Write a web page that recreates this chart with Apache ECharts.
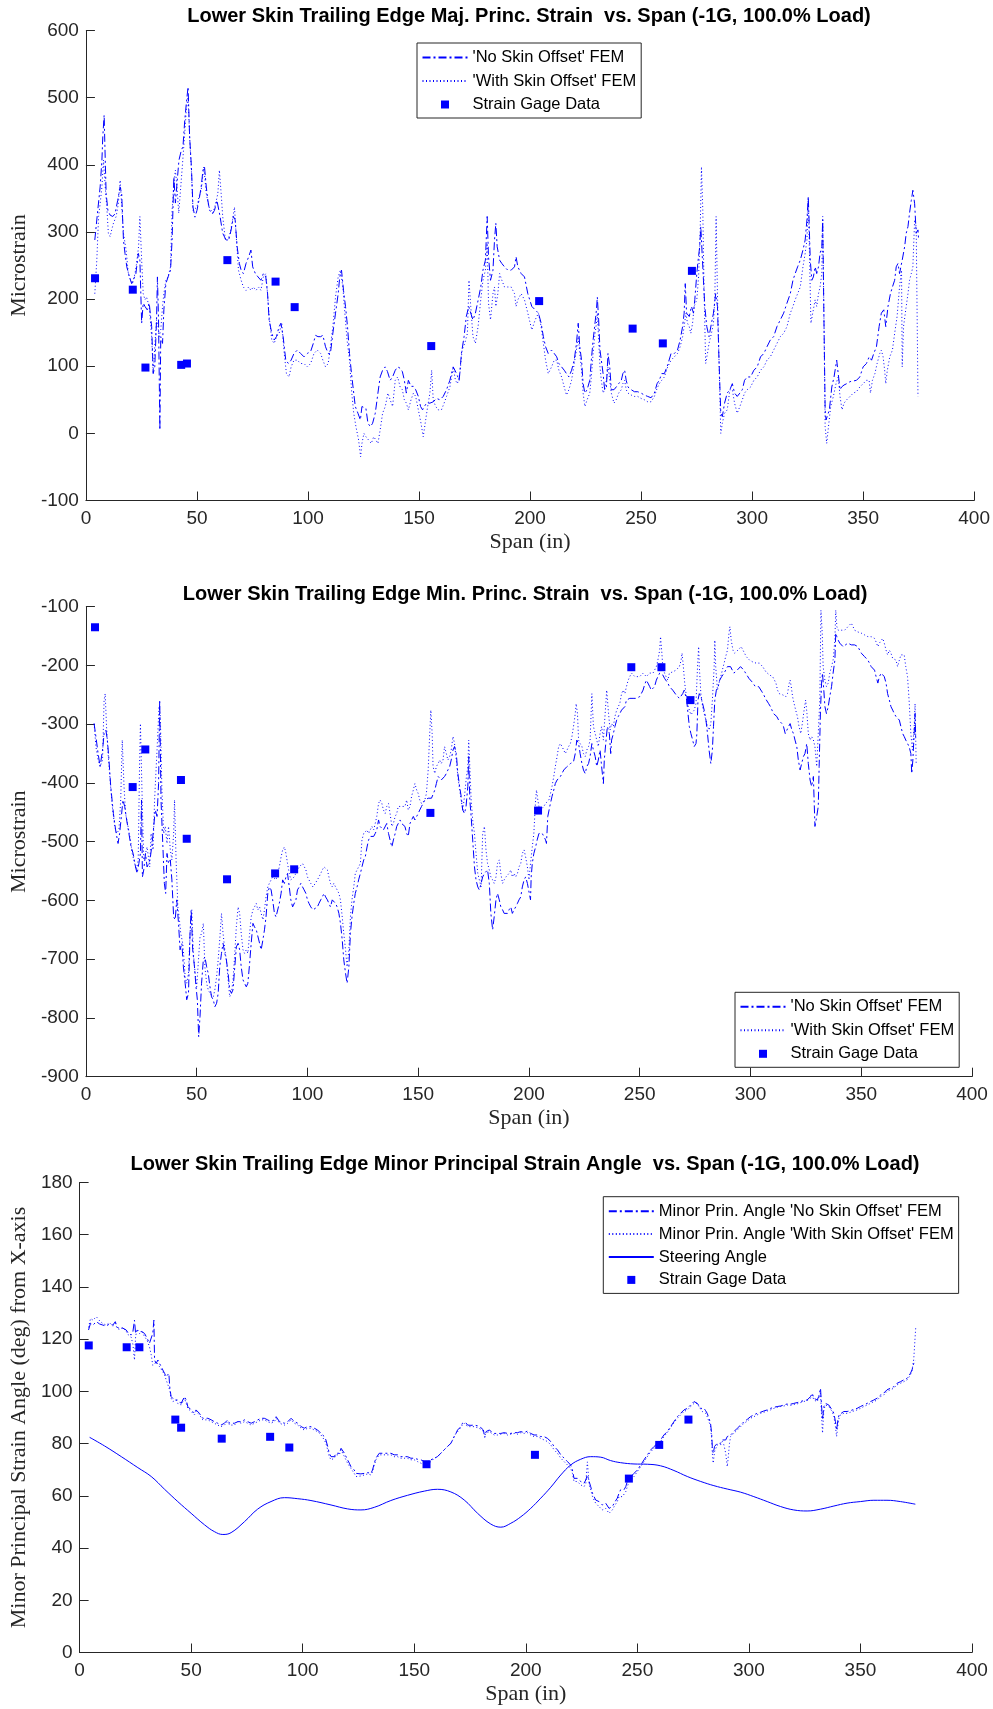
<!DOCTYPE html>
<html>
<head>
    <meta charset="UTF-8">
    <title>Lower Skin Trailing Edge Strain vs. Span</title>
    <script src="https://cdn.jsdelivr.net/npm/echarts@6/dist/echarts.min.js"></script>
    <style>
        body { margin: 0; background: #fff; }
        #chart { width: 993px; height: 1709px; }
    </style>
</head>
<body>
    <div id="chart"></div>

    <script>
        // strain gage locations (span, in) - same gages on all three plots
        var gageSpan = [4.1, 21.1, 26.8, 42.9, 45.5, 63.7, 85.4, 94, 155.5, 204.1, 246.2, 259.8, 272.9];

        // --- plot 1: major principal strain ---
        var majGage = [231, 214, 98, 102, 104, 258, 226, 188, 130, 197, 156, 134, 242];

        var majNoOffset = [[4.0,288],[5.2,328],[6.4,367],[7.2,407],[7.6,442],[8.2,474],[8.7,407],[9.1,357],[9.9,332],[10.9,325],[12.1,323],[13.1,327],[14.3,347],[15.4,367],[16.1,357],[16.9,288],[17.6,268],[18.4,248],[19.6,233],[20.6,223],[21.3,228],[22.5,238],[23.6,268],[24.3,258],[25.1,164],[25.8,194],[26.6,189],[27.6,184],[28.5,194],[29.6,159],[30.3,89],[31.0,99],[31.8,169],[32.2,233],[32.7,169],[33.3,5],[33.7,144],[34.5,134],[35.1,184],[36.0,223],[37.0,233],[38.1,243],[38.8,288],[39.6,382],[40.3,343],[41.0,372],[41.9,407],[43.0,422],[43.7,427],[44.5,466],[45.2,491],[46.0,516],[46.7,442],[47.5,397],[48.2,337],[49.1,322],[50.0,332],[50.9,347],[51.9,367],[52.7,392],[53.4,397],[54.2,367],[54.9,347],[55.7,332],[56.9,327],[57.9,332],[59.0,347],[59.9,347],[60.4,323],[61.6,298],[63.1,288],[64.3,288],[65.4,303],[66.4,323],[67.2,318],[68.1,278],[69.1,253],[69.9,243],[70.9,238],[72.1,253],[73.3,263],[74.3,273],[75.1,248],[76.3,238],[77.5,233],[78.8,228],[79.9,238],[81.0,233],[81.8,208],[82.5,169],[83.7,149],[84.8,139],[85.8,144],[87.0,159],[87.8,164],[88.8,144],[90.0,109],[91.2,104],[92.4,109],[93.7,119],[95.2,124],[96.7,119],[98.2,114],[99.7,119],[101.2,122],[102.4,134],[103.4,146],[104.5,144],[105.7,144],[106.7,146],[107.9,129],[109.1,119],[110.1,119],[111.2,149],[112.4,179],[113.6,208],[114.3,233],[115.1,243],[116.0,213],[116.9,189],[117.8,159],[118.7,119],[119.6,89],[120.6,60],[121.3,40],[122.5,30],[123.6,20],[124.3,40],[125.2,42],[126.1,37],[127.0,15],[128.1,10],[129.1,15],[130.3,30],[131.5,60],[132.5,84],[133.6,94],[134.8,99],[135.8,92],[137.0,79],[138.1,84],[139.3,94],[140.4,99],[141.5,97],[142.5,92],[143.4,79],[144.3,60],[145.2,79],[146.4,70],[147.5,70],[148.5,65],[149.7,55],[150.7,40],[151.6,35],[152.4,40],[153.4,45],[154.9,45],[156.4,47],[157.9,52],[159.4,50],[160.9,55],[162.4,65],[163.9,79],[165.4,99],[166.9,89],[168.1,79],[169.1,119],[170.3,144],[171.3,174],[172.4,189],[173.3,179],[174.3,169],[175.4,179],[176.6,198],[177.8,218],[178.8,243],[179.9,258],[180.7,323],[181.3,263],[182.2,228],[183.3,243],[184.0,288],[184.6,313],[185.2,278],[186.3,258],[187.3,253],[188.5,248],[190.0,243],[191.5,243],[193.0,248],[193.7,263],[194.5,248],[196.0,238],[197.5,233],[199.0,208],
            [200.8,189],[202.3,184],[203.8,179],[205.0,164],[206.0,144],[207.0,129],[208.2,119],[209.7,124],[210.9,119],[212.0,114],[213.0,104],[214.2,99],[215.4,94],[216.4,89],[217.5,84],[218.7,94],[219.9,109],[220.9,134],[221.7,164],[222.4,129],[223.2,109],[223.9,74],[224.7,60],[225.7,65],[226.9,79],[227.6,109],[228.4,139],[229.1,159],[229.9,184],[230.3,203],[230.9,169],[231.5,124],[232.1,109],[232.9,89],[233.6,65],[234.4,69],[235.1,119],[235.9,99],[236.6,65],[237.8,65],[238.8,69],[239.9,74],[241.1,79],[241.8,89],[242.6,94],[243.3,79],[244.1,69],[245.6,65],[247.0,62],[248.5,62],[250.0,60],[251.5,57],[253.0,55],[254.5,53],[256.0,60],[257.2,74],[258.2,79],[259.3,89],[260.5,89],[262.0,102],[263.5,119],[265.0,119],[266.4,124],[267.6,139],[268.7,159],[269.4,179],[269.9,223],[270.5,179],[271.7,174],[272.7,189],[273.6,179],[274.2,199],[275.1,238],[275.7,258],[276.4,278],[276.9,308],[277.5,268],[278.1,228],[278.7,189],[279.6,159],[280.6,144],[281.7,164],[282.6,179],[283.6,208],[284.4,189],[285.1,109],[285.9,30],[286.6,25],[287.6,45],[288.8,60],[290.0,65],[291.1,74],[292.1,60],[293.3,55],[294.5,60],[295.6,65],[296.6,79],[297.8,84],[299.3,84],[300.8,94],[302.3,99],[303.8,114],[305.3,119],[306.7,129],[308.2,139],[309.7,144],[311.2,159],[312.7,169],[314.2,179],[315.7,194],[317.2,208],[318.4,228],[319.4,238],[320.5,248],[321.7,258],[322.9,273],[323.9,288],[324.7,318],[325.3,352],[325.6,323],[326.2,258],[326.9,228],[327.6,233],[328.4,248],[329.1,238],[329.9,248],[330.6,268],[331.4,278],[331.8,318],[332.4,159],[332.9,35],[333.3,20],[333.9,20],[334.8,35],[335.9,69],[336.9,84],[338.1,109],[338.8,109],[339.6,65],[340.3,69],[341.4,72],[342.6,74],[344.1,77],[345.6,78],[347.0,79],[348.5,84],[350.0,99],[351.5,104],[352.7,114],[353.8,109],[354.8,119],[356.0,129],[357.2,159],[358.2,179],[359.3,184],[360.2,159],[361.2,189],[362.3,208],[363.2,218],[364.2,228],[364.9,248],[365.7,253],[366.4,238],[367.6,258],[368.7,278],[369.4,298],[370.2,308],[370.9,328],[371.7,347],[372.4,362],[373.2,342],[373.9,298],[374.7,303],[375.0,288]];

        var majWithOffset = [[4.0,208],[4.9,258],[5.7,323],[6.4,342],[7.2,367],[7.9,407],[8.7,367],[9.4,337],[10.1,298],[10.9,293],[11.6,303],[12.4,313],[13.6,323],[14.6,342],[15.4,377],[16.1,377],[16.9,298],[18.1,273],[19.1,238],[20.1,228],[21.0,223],[22.1,238],[22.8,253],[23.7,278],[24.3,323],[25.1,258],[25.8,208],[26.6,199],[27.3,203],[28.5,189],[29.6,144],[30.3,89],[31.0,129],[31.8,169],[32.5,159],[33.0,144],[33.7,154],[34.5,189],[35.1,208],[36.0,228],[37.0,233],[38.1,248],[38.8,332],[39.6,372],[40.3,392],[41.0,367],[41.8,328],[42.7,367],[43.4,397],[44.5,447],[45.2,481],[46.0,501],[46.7,442],[47.5,392],[48.2,332],[49.1,332],[50.0,337],[50.9,352],[51.9,362],[53.1,397],[54.2,357],[55.4,337],[56.4,332],[57.2,328],[58.4,342],[59.4,357],[60.1,392],[60.9,357],[61.6,323],[62.8,288],[63.9,288],[64.9,298],[65.8,313],[66.9,337],[67.6,298],[68.7,243],[69.9,228],[70.9,218],[72.1,213],[73.3,218],[74.3,213],[75.4,218],[76.6,213],[77.8,218],[78.8,213],[79.9,233],[81.0,238],[81.8,208],[82.5,174],[83.7,139],[84.8,134],[85.8,144],[87.0,149],[88.2,164],[89.3,119],[90.3,89],[91.5,84],[92.4,99],[93.7,109],[95.2,109],[96.7,104],[98.2,104],[99.7,99],[101.2,104],[102.7,119],[104.2,124],[105.7,119],[106.7,109],[107.9,99],[109.1,104],[110.1,129],[111.2,159],[112.4,203],[113.6,233],[114.6,243],[115.7,218],[116.6,179],[117.6,139],[118.7,109],[119.6,65],[120.6,30],[121.6,10],[122.8,-10],[123.7,-35],[124.3,-15],[125.2,0],[126.1,-5],[127.3,-10],[128.5,-15],[129.6,-5],[130.6,-10],[131.5,-15],[132.5,5],[133.6,30],[134.8,40],[136.0,60],[137.0,50],[138.1,40],[139.3,79],[140.4,84],[141.5,69],[142.5,65],[143.4,50],[144.3,45],[145.2,35],[146.4,50],[147.5,60],[148.5,55],[149.7,35],[150.9,15],[151.9,-5],[153.0,20],[153.9,40],[154.9,60],[155.7,94],[156.4,50],[157.5,40],[158.7,35],[160.1,35],[161.3,45],[162.4,55],[163.9,69],[165.4,99],[166.4,79],[167.3,74],[168.4,89],[169.4,124],[170.6,134],[171.8,149],[172.5,228],[173.3,189],[174.3,144],[175.4,134],[176.6,159],[177.8,199],[178.8,228],[179.9,243],[180.7,283],[181.3,194],[182.2,169],[183.3,208],[184.0,218],[184.6,189],[185.5,208],[186.3,238],[187.3,228],[188.5,218],[190.0,218],[191.5,218],[193.0,208],[193.7,189],[194.5,199],[196.0,208],[197.5,199],[199.0,179],
            [200.8,154],[202.3,169],[203.8,179],[205.0,159],[206.0,134],[207.0,109],[208.2,89],[209.7,99],[210.9,109],[212.0,109],[213.0,94],[214.2,84],[215.4,69],[216.4,57],[217.5,65],[218.7,79],[219.9,104],[220.9,124],[221.7,144],[222.4,119],[223.2,94],[223.9,60],[224.7,40],[225.7,50],[226.9,60],[227.6,84],[228.4,119],[229.1,144],[229.9,164],[230.3,179],[230.9,139],[231.5,99],[232.1,79],[232.9,60],[233.6,65],[234.4,79],[235.1,99],[235.9,79],[236.6,60],[237.8,45],[238.8,50],[239.9,60],[241.1,65],[241.8,74],[242.6,79],[243.3,65],[244.1,60],[245.6,57],[247.0,55],[248.5,55],[250.0,52],[251.5,50],[253.0,47],[254.5,47],[256.0,55],[257.2,67],[258.2,74],[259.3,79],[260.5,84],[262.0,99],[263.5,109],[265.0,114],[266.4,119],[267.6,129],[268.7,144],[269.4,159],[270.2,179],[270.9,164],[271.7,159],[272.4,149],[273.2,164],[273.9,189],[275.1,199],[275.9,233],[276.6,298],[277.2,397],[277.8,332],[278.4,208],[279.1,104],[279.9,119],[280.6,134],[281.7,149],[282.6,164],[283.2,199],[283.8,323],[284.4,208],[285.1,109],[285.9,0],[286.6,15],[287.6,30],[288.8,35],[290.0,65],[291.1,65],[292.1,45],[293.3,30],[294.5,40],[295.6,50],[296.6,60],[297.8,65],[299.3,69],[300.8,79],[302.3,84],[303.8,94],[305.3,99],[306.7,109],[308.2,114],[309.7,124],[311.2,134],[312.7,144],[314.2,149],[315.7,159],[317.2,179],[318.4,189],[319.4,199],[320.5,208],[321.7,218],[322.9,248],[323.9,268],[324.7,288],[325.3,352],[325.9,258],[326.5,164],[327.3,179],[328.4,199],[329.1,189],[329.9,208],[330.6,218],[331.4,238],[331.8,323],[332.4,159],[332.9,10],[333.6,-15],[334.4,10],[335.4,40],[336.6,55],[337.8,74],[338.8,84],[339.6,55],[340.5,35],[341.4,45],[342.6,50],[344.1,55],[345.6,60],[347.0,62],[348.5,69],[350.0,74],[351.5,79],[352.7,79],[353.3,60],[354.2,79],[355.3,89],[356.3,104],[357.5,119],[358.2,124],[359.0,114],[359.7,94],[360.2,74],[360.9,94],[362.0,114],[363.2,124],[364.2,149],[365.3,174],[366.4,218],[367.3,243],[367.6,99],[368.2,159],[369.4,189],[370.2,208],[370.9,228],[371.7,238],[372.4,248],[373.2,318],[373.9,308],[374.7,55]];

        // --- plot 2: minor principal strain ---
        var minGage = [-135, -407, -343, -395, -495, -564, -554, -547, -451, -447, -203, -203, -259];

        var minNoOffset = [[3.7,-299],[4.5,-321],[5.5,-350],[6.4,-372],[7.5,-344],[8.2,-316],[9.0,-310],[9.7,-327],[10.4,-361],[11.2,-406],[12.4,-452],[13.4,-480],[14.5,-503],[15.2,-486],[16.0,-457],[16.7,-429],[17.5,-440],[18.4,-463],[19.4,-486],[20.4,-509],[21.3,-520],[22.4,-543],[23.1,-554],[23.9,-537],[24.6,-520],[25.1,-429],[25.5,-560],[26.1,-548],[26.9,-520],[27.6,-543],[28.4,-537],[29.1,-526],[29.9,-503],[30.6,-474],[31.3,-446],[32.1,-457],[32.8,-401],[33.3,-259],[33.9,-429],[34.8,-514],[35.4,-571],[36.0,-588],[36.6,-520],[37.3,-537],[38.1,-531],[38.8,-565],[39.6,-628],[40.3,-633],[41.0,-599],[41.8,-639],[42.5,-684],[43.3,-673],[44.0,-713],[44.8,-741],[45.5,-769],[46.3,-758],[47.0,-656],[47.5,-616],[48.2,-684],[49.0,-713],[49.7,-747],[50.3,-769],[50.9,-832],[51.5,-798],[52.2,-741],[53.0,-701],[53.7,-696],[54.5,-713],[55.2,-724],[56.0,-747],[56.7,-764],[57.5,-769],[58.2,-781],[59.0,-775],[59.7,-758],[60.4,-713],[61.2,-690],[61.9,-673],[62.7,-690],[63.4,-701],[64.2,-724],[64.9,-752],[65.7,-758],[66.4,-752],[67.2,-713],[67.9,-679],[68.7,-673],[69.4,-684],[70.1,-713],[70.9,-735],[71.6,-741],[72.4,-747],[73.1,-741],[73.9,-707],[74.6,-673],[75.4,-639],[76.1,-645],[76.9,-650],[77.6,-650],[78.4,-673],[79.1,-684],[79.9,-667],[80.6,-650],[81.3,-628],[82.1,-588],[82.8,-577],[83.6,-582],[84.3,-599],[85.1,-622],[85.8,-628],[86.6,-625],[87.3,-605],[88.1,-588],[88.8,-565],[89.6,-571],[90.3,-560],[91.0,-554],[91.8,-577],[92.5,-599],[93.3,-611],[94.0,-611],[94.8,-599],[95.5,-582],[96.3,-577],[97.0,-571],[97.8,-577],[98.5,-582],[99.3,-588],[100.0,-599],[100.7,-605],[101.5,-611],[102.5,-616],[103.4,-619],[104.5,-611],[105.2,-605],[106.0,-599],[106.7,-594],[107.5,-588],[108.2,-594],[109.0,-599],[109.7,-605],[110.4,-611],[111.2,-599],[111.9,-599],[112.7,-605],[113.4,-611],[114.2,-622],[114.9,-639],[115.7,-667],[116.4,-701],[117.2,-724],[117.9,-741],[118.7,-713],[119.4,-656],[120.1,-628],[120.9,-605],[121.6,-588],[122.4,-577],[123.1,-565],[123.9,-554],[124.6,-543],[125.4,-531],[126.1,-526],[126.9,-509],[127.6,-497],[128.4,-491],[129.1,-493],[129.9,-491],[130.6,-486],[131.3,-480],[132.1,-463],[132.8,-474],[133.6,-474],[134.3,-480],[135.1,-480],[135.8,-469],[136.6,-486],[137.3,-497],[138.1,-509],[138.8,-497],[139.6,-486],[140.3,-474],[141.0,-469],[141.8,-463],[142.5,-469],[143.3,-469],[144.0,-474],[144.8,-486],[145.5,-491],[146.3,-469],[147.0,-463],[147.8,-457],[148.5,-463],[149.3,-457],[150.0,-452],[150.7,-446],[151.5,-440],[152.2,-435],[153.0,-429],[153.7,-429],[154.5,-426],[155.2,-423],[156.0,-426],[156.7,-423],[157.5,-412],[158.2,-401],[159.0,-389],[159.7,-392],[160.4,-395],[161.2,-395],[161.9,-389],[162.7,-384],[163.4,-378],[164.2,-372],[164.9,-361],[165.7,-344],[166.4,-338],[167.2,-350],[167.9,-384],[168.7,-406],[169.4,-423],[170.1,-446],[170.9,-452],[171.6,-440],[172.4,-406],[172.8,-355],[173.3,-429],[173.9,-457],[174.6,-497],[175.4,-543],[176.1,-565],[176.9,-577],[177.6,-582],[178.4,-571],[179.1,-560],[179.9,-554],[180.6,-554],[181.3,-548],[182.1,-571],[182.8,-622],[183.6,-650],[184.3,-628],[185.1,-599],[185.8,-588],[186.6,-599],[187.3,-611],[188.1,-616],[188.8,-622],[189.6,-622],[190.3,-622],[191.0,-616],[191.8,-611],[192.5,-622],[193.3,-616],[194.0,-611],[194.8,-605],[195.5,-599],[196.3,-594],[197.0,-577],[197.8,-565],[198.5,-560],[199.3,-571],
            [200.7,-599],[201.0,-560],[201.5,-537],[202.2,-520],[203.0,-509],[203.7,-497],[204.5,-486],[205.2,-483],[206.0,-486],[206.7,-491],[207.5,-497],[207.9,-503],[208.5,-457],[209.4,-440],[210.4,-423],[211.2,-412],[211.9,-401],[212.7,-395],[214.2,-389],[214.9,-384],[215.7,-378],[217.2,-372],[218.7,-367],[220.1,-364],[220.9,-350],[221.6,-327],[222.4,-333],[223.1,-350],[223.9,-367],[224.6,-378],[225.4,-384],[226.1,-372],[226.9,-367],[227.6,-355],[228.4,-333],[229.1,-344],[229.9,-355],[230.6,-372],[231.3,-361],[232.1,-344],[232.8,-372],[233.6,-401],[234.0,-361],[234.8,-327],[235.4,-304],[236.3,-316],[236.9,-350],[237.3,-327],[238.1,-316],[238.8,-304],[239.6,-293],[240.3,-287],[241.0,-282],[241.8,-276],[242.5,-279],[243.3,-270],[244.0,-259],[244.8,-256],[245.5,-256],[247.0,-256],[248.5,-256],[250.0,-253],[250.7,-248],[251.5,-242],[252.2,-233],[253.0,-225],[253.7,-230],[254.5,-236],[255.2,-242],[256.0,-245],[256.7,-236],[257.5,-225],[258.2,-219],[259.0,-213],[259.7,-216],[260.4,-216],[261.2,-222],[261.9,-225],[262.7,-230],[263.4,-236],[264.2,-239],[264.9,-242],[265.7,-245],[266.4,-250],[267.2,-253],[267.9,-256],[268.7,-253],[269.4,-248],[270.1,-242],[270.6,-239],[271.2,-259],[271.8,-282],[272.4,-304],[273.1,-316],[273.9,-327],[274.6,-338],[275.4,-333],[275.8,-316],[276.3,-259],[276.9,-248],[277.6,-253],[278.4,-265],[279.1,-276],[279.9,-293],[280.6,-316],[281.3,-344],[282.1,-367],[282.8,-344],[283.3,-304],[283.9,-259],[284.6,-242],[285.4,-236],[286.1,-225],[287.0,-219],[288.1,-213],[288.8,-208],[289.6,-202],[290.3,-199],[291.0,-202],[291.8,-208],[292.5,-213],[293.3,-211],[294.0,-208],[294.8,-205],[295.5,-202],[296.3,-202],[297.0,-208],[297.8,-213],[298.5,-216],[299.3,-222],[300.0,-225],[300.7,-228],[301.5,-230],[302.2,-236],[303.0,-233],[303.7,-236],[304.5,-239],[305.2,-245],[306.0,-250],[306.7,-256],[307.5,-259],[308.2,-265],[309.0,-270],[309.7,-276],[310.4,-282],[311.2,-284],[311.9,-287],[312.7,-293],[313.4,-296],[314.2,-299],[314.9,-304],[315.7,-316],[316.4,-313],[317.2,-304],[317.9,-299],[318.7,-310],[319.4,-316],[320.1,-327],[320.9,-338],[321.6,-361],[322.4,-378],[323.1,-367],[323.9,-355],[324.6,-350],[325.4,-333],[326.1,-367],[326.9,-395],[327.6,-406],[328.4,-389],[329.1,-474],[329.9,-457],[330.6,-440],[331.0,-372],[331.6,-276],[332.1,-230],[332.5,-213],[333.1,-242],[333.6,-270],[334.3,-282],[335.1,-270],[335.8,-253],[336.6,-236],[337.3,-213],[338.1,-191],[338.5,-145],[339.0,-151],[339.6,-157],[340.3,-162],[341.0,-165],[341.8,-168],[342.5,-165],[344.0,-162],[345.5,-165],[347.0,-165],[347.8,-162],[348.5,-168],[349.3,-174],[350.0,-179],[350.7,-179],[351.5,-185],[352.2,-182],[353.0,-191],[353.7,-196],[354.5,-202],[355.2,-199],[356.0,-208],[356.7,-219],[357.5,-230],[358.2,-219],[359.0,-213],[359.7,-211],[360.4,-219],[361.2,-230],[361.9,-248],[362.7,-259],[363.4,-270],[364.2,-276],[364.9,-282],[365.7,-287],[366.4,-284],[367.2,-293],[367.9,-304],[368.7,-316],[369.4,-321],[370.1,-327],[370.9,-333],[371.6,-338],[372.4,-350],[372.8,-384],[373.3,-361],[373.9,-316],[374.3,-282],[374.6,-327]];

        var minWithOffset = [[3.7,-299],[4.5,-338],[5.5,-361],[6.4,-372],[7.5,-361],[8.2,-259],[8.7,-248],[9.3,-304],[10.0,-350],[10.9,-395],[11.9,-440],[13.0,-474],[13.9,-486],[14.9,-480],[15.7,-429],[16.4,-327],[17.2,-406],[17.9,-452],[19.0,-474],[20.1,-497],[20.9,-520],[21.6,-531],[22.8,-548],[23.6,-531],[24.2,-372],[24.6,-299],[25.4,-429],[26.1,-531],[26.9,-520],[27.6,-509],[28.8,-543],[29.4,-486],[30.3,-514],[31.0,-429],[32.1,-344],[33.0,-270],[33.6,-287],[34.3,-412],[35.1,-486],[35.8,-474],[36.6,-503],[37.3,-474],[38.1,-514],[38.8,-531],[39.6,-486],[40.0,-429],[40.7,-531],[41.5,-611],[42.2,-633],[42.8,-656],[43.7,-673],[44.3,-701],[44.8,-730],[45.5,-741],[46.3,-724],[47.0,-656],[47.8,-616],[48.5,-690],[49.3,-724],[50.0,-747],[50.7,-707],[51.5,-662],[52.2,-656],[53.0,-639],[53.7,-713],[54.5,-741],[55.2,-752],[56.0,-758],[56.7,-758],[57.5,-764],[58.2,-752],[59.0,-730],[59.7,-701],[60.4,-667],[61.2,-622],[61.9,-656],[62.7,-684],[63.4,-701],[64.2,-735],[64.9,-764],[65.7,-758],[66.4,-735],[67.2,-690],[67.9,-645],[68.7,-611],[69.4,-622],[70.1,-656],[70.9,-684],[71.6,-690],[72.4,-684],[73.1,-690],[73.9,-656],[74.6,-628],[75.4,-616],[76.1,-611],[76.9,-605],[77.6,-616],[78.4,-611],[79.1,-622],[79.9,-633],[80.6,-616],[81.3,-594],[82.1,-577],[82.8,-571],[83.6,-565],[84.3,-560],[85.1,-560],[85.8,-565],[86.6,-554],[87.3,-543],[88.1,-526],[88.8,-514],[89.6,-509],[90.3,-520],[91.0,-537],[91.8,-554],[92.5,-565],[93.3,-565],[94.0,-560],[94.8,-560],[95.5,-548],[96.3,-543],[97.0,-540],[97.8,-537],[98.5,-537],[99.3,-548],[100.0,-560],[100.7,-565],[101.5,-571],[102.5,-577],[103.4,-574],[104.5,-565],[105.2,-560],[106.0,-554],[106.7,-548],[107.5,-543],[108.2,-540],[109.0,-548],[109.7,-560],[110.4,-571],[111.2,-577],[111.9,-571],[112.7,-577],[113.4,-582],[114.2,-588],[114.9,-599],[115.7,-628],[116.4,-656],[117.2,-684],[117.9,-713],[118.7,-684],[119.4,-628],[120.1,-599],[120.9,-577],[121.6,-554],[122.4,-548],[123.1,-543],[123.9,-537],[124.6,-497],[125.4,-486],[126.1,-486],[126.9,-480],[127.6,-486],[128.4,-486],[129.1,-474],[129.9,-480],[130.6,-469],[131.3,-457],[132.1,-435],[132.8,-429],[133.6,-435],[134.3,-446],[135.1,-452],[135.8,-440],[136.6,-435],[137.3,-452],[138.1,-474],[138.8,-469],[139.6,-457],[140.3,-452],[141.0,-440],[141.8,-438],[142.5,-440],[143.3,-440],[144.0,-440],[144.8,-429],[145.5,-446],[146.3,-440],[147.0,-423],[147.8,-412],[148.5,-401],[149.3,-412],[150.0,-418],[150.7,-429],[151.5,-435],[152.2,-435],[153.0,-429],[153.7,-418],[154.5,-378],[155.2,-316],[155.7,-276],[156.3,-316],[156.7,-372],[157.5,-384],[158.2,-372],[159.0,-367],[159.7,-361],[160.4,-367],[161.2,-361],[161.9,-338],[162.7,-350],[163.4,-361],[164.2,-355],[164.9,-344],[165.7,-321],[166.4,-333],[167.2,-361],[167.9,-389],[168.7,-412],[169.4,-429],[170.1,-446],[170.9,-423],[171.6,-395],[172.4,-372],[172.8,-327],[173.3,-372],[173.9,-429],[174.6,-463],[175.4,-486],[176.1,-520],[176.9,-554],[177.6,-565],[178.4,-577],[179.1,-486],[179.9,-474],[180.6,-514],[181.3,-537],[182.1,-548],[182.8,-560],[183.6,-565],[184.3,-571],[185.1,-560],[185.8,-537],[186.6,-531],[187.3,-554],[188.1,-571],[188.8,-565],[189.6,-560],[190.3,-560],[191.0,-554],[191.8,-548],[192.5,-560],[193.3,-554],[194.0,-560],[194.8,-554],[195.5,-543],[196.3,-537],[197.0,-520],[197.8,-514],[198.5,-526],[199.3,-543],[200.0,-565],
            [200.7,-537],[201.5,-509],[202.2,-486],[203.0,-429],[203.4,-412],[204.0,-429],[204.5,-440],[205.2,-446],[206.0,-446],[206.7,-440],[207.5,-435],[208.2,-435],[209.0,-429],[209.7,-418],[210.4,-406],[211.2,-389],[211.9,-372],[212.7,-355],[213.4,-338],[214.2,-333],[214.9,-338],[215.7,-344],[216.4,-350],[217.2,-344],[217.9,-338],[218.7,-333],[219.4,-321],[220.1,-304],[220.9,-282],[221.3,-265],[221.9,-282],[222.4,-327],[223.1,-333],[223.9,-338],[224.6,-350],[225.4,-355],[226.1,-344],[226.9,-338],[227.6,-327],[228.4,-248],[229.1,-304],[229.9,-316],[230.6,-327],[231.3,-338],[232.1,-316],[232.8,-304],[233.6,-327],[234.3,-287],[235.1,-242],[235.8,-276],[236.6,-310],[237.3,-299],[238.1,-304],[238.8,-287],[239.6,-276],[240.3,-270],[241.0,-265],[241.8,-248],[242.5,-242],[243.3,-248],[244.0,-236],[244.8,-225],[245.5,-219],[246.3,-213],[247.0,-216],[247.8,-219],[248.5,-216],[250.0,-219],[251.5,-213],[253.0,-219],[254.5,-213],[256.0,-213],[256.7,-208],[257.5,-202],[258.2,-191],[259.0,-174],[259.4,-151],[260.0,-179],[260.4,-202],[261.2,-213],[261.9,-219],[262.7,-225],[263.4,-213],[264.9,-211],[266.4,-208],[267.2,-211],[267.9,-202],[268.7,-191],[269.1,-179],[269.7,-202],[270.3,-230],[270.9,-248],[271.6,-265],[272.4,-276],[273.1,-284],[273.9,-282],[274.6,-276],[275.4,-265],[276.1,-202],[276.6,-168],[276.9,-202],[277.6,-248],[278.4,-270],[279.1,-282],[279.9,-293],[280.6,-304],[281.3,-310],[282.1,-299],[282.8,-259],[283.6,-202],[283.9,-157],[284.3,-202],[285.1,-242],[285.8,-230],[286.6,-219],[287.3,-208],[288.1,-196],[288.8,-185],[289.6,-174],[290.3,-145],[290.7,-134],[291.3,-157],[292.1,-174],[292.8,-179],[293.6,-177],[294.3,-174],[295.1,-171],[295.8,-168],[296.6,-171],[297.3,-179],[298.1,-185],[298.8,-188],[299.6,-191],[301.0,-194],[302.5,-196],[304.0,-196],[305.5,-202],[307.0,-211],[308.5,-216],[310.0,-219],[311.5,-230],[312.2,-242],[313.0,-248],[313.7,-250],[314.5,-250],[315.2,-248],[316.0,-253],[316.7,-248],[317.5,-230],[317.9,-225],[318.4,-236],[319.0,-253],[319.7,-265],[320.4,-276],[321.2,-287],[321.9,-304],[322.7,-316],[323.4,-299],[324.2,-276],[324.9,-259],[325.5,-282],[326.1,-316],[326.9,-327],[327.6,-321],[328.4,-327],[329.1,-338],[329.9,-372],[330.6,-316],[331.3,-259],[331.8,-106],[332.4,-145],[332.8,-202],[333.6,-225],[334.3,-236],[335.1,-230],[335.8,-213],[336.6,-202],[337.3,-191],[338.1,-157],[338.5,-106],[339.0,-134],[339.6,-140],[340.3,-143],[341.0,-140],[341.8,-143],[342.5,-140],[343.3,-137],[344.0,-134],[344.8,-131],[345.5,-128],[346.3,-134],[347.0,-140],[348.5,-143],[350.0,-145],[351.5,-148],[353.0,-151],[354.5,-151],[356.0,-154],[356.7,-160],[357.5,-168],[358.2,-162],[359.0,-160],[359.7,-154],[360.4,-162],[361.2,-174],[361.9,-182],[362.7,-174],[363.4,-179],[364.2,-188],[364.9,-185],[365.7,-191],[366.4,-202],[367.2,-191],[367.9,-182],[368.7,-179],[369.4,-182],[370.1,-202],[370.9,-219],[371.6,-259],[372.4,-316],[373.1,-344],[373.9,-304],[374.3,-265],[374.8,-367]];

        // --- plot 3: minor principal strain angle ---
        var angGage = [117.6, 116.9, 116.9, 89.2, 86.1, 81.9, 82.6, 78.5, 72.1, 75.7, 66.6, 79.5, 89.2];

        var angNoOffset = [[4.0,123.5],[4.9,126.1],[6.0,125.4],[7.5,126.7],[9.0,125.8],[10.4,125.4],[11.9,125.0],[13.4,125.8],[14.9,125.4],[16.0,126.7],[16.9,124.5],[17.9,124.2],[19.4,124.2],[20.9,123.5],[21.9,122.2],[23.1,121.6],[23.9,122.9],[24.6,127.3],[25.1,122.2],[25.8,123.3],[26.9,122.9],[27.9,122.9],[29.1,122.2],[30.3,120.3],[31.3,118.4],[32.1,118.4],[32.8,122.2],[33.3,127.3],[33.6,112.0],[34.3,110.7],[35.1,112.0],[35.8,110.7],[36.6,109.5],[37.3,108.2],[38.1,106.9],[38.8,105.6],[39.6,106.3],[40.0,106.9],[40.4,101.8],[41.0,98.0],[41.8,97.4],[42.5,96.7],[43.3,96.1],[44.0,96.7],[44.8,96.1],[45.5,95.4],[46.3,95.4],[47.0,98.0],[47.8,96.7],[48.5,94.2],[49.3,93.5],[50.0,92.9],[50.7,92.3],[51.5,91.6],[52.2,92.9],[53.0,93.5],[53.7,91.6],[54.5,91.0],[55.2,89.7],[56.0,89.1],[57.5,89.7],[59.0,89.1],[60.4,88.4],[61.9,87.8],[63.4,87.1],[64.2,86.5],[64.9,87.8],[65.7,88.4],[66.4,89.1],[67.2,87.8],[67.9,88.4],[69.4,87.8],[70.9,88.4],[72.4,88.4],[73.9,89.1],[75.4,88.4],[76.9,87.8],[78.4,88.4],[79.9,89.1],[81.3,89.7],[82.8,89.7],[84.3,89.1],[85.8,88.4],[87.3,89.1],[88.1,90.3],[88.8,89.7],[89.6,88.4],[90.3,87.8],[91.8,87.8],[93.3,88.4],[94.8,89.7],[95.5,89.1],[96.3,88.4],[97.8,87.8],[99.3,86.5],[100.7,85.9],[102.2,86.5],[103.7,86.5],[105.2,85.9],[106.7,85.2],[108.2,83.9],[109.7,82.7],[110.4,81.4],[111.2,78.9],[111.9,76.3],[112.7,75.0],[113.4,74.4],[114.2,75.0],[114.9,76.3],[115.7,76.9],[116.4,76.3],[117.2,78.2],[117.9,77.6],[118.7,76.3],[119.4,75.7],[120.1,73.8],[120.9,72.5],[121.6,71.2],[122.4,71.2],[123.1,69.9],[123.9,68.6],[124.6,68.6],[126.1,68.4],[127.6,68.6],[129.1,68.9],[130.6,68.6],[131.3,69.9],[132.1,72.5],[132.8,74.4],[133.6,75.0],[134.3,76.3],[135.1,75.7],[135.8,76.3],[136.6,76.9],[137.3,76.3],[138.1,76.9],[139.6,76.3],[141.0,75.7],[142.5,75.7],[144.0,75.0],[145.5,75.0],[147.0,75.0],[148.5,74.4],[150.0,74.4],[151.5,74.0],[153.0,73.8],[154.5,73.1],[156.0,73.1],[157.5,73.8],[159.0,74.4],[160.4,75.0],[161.9,76.3],[163.4,77.6],[164.9,78.9],[166.4,80.1],[167.2,81.4],[167.9,82.7],[168.7,83.9],[169.4,85.2],[170.1,85.9],[170.9,86.5],[171.6,87.8],[172.4,88.4],[173.1,88.0],[173.9,87.1],[175.4,87.0],[176.9,87.1],[178.4,86.8],[179.9,86.1],[181.0,85.2],[181.6,82.4],[182.2,84.6],[183.6,85.2],[184.6,84.6],[185.8,83.9],[187.3,83.9],[188.8,83.9],[190.3,84.2],[191.8,83.9],[193.3,83.9],[194.8,84.2],[196.3,84.2],[197.8,84.6],[199.3,84.2],
            [200.7,84.8],[202.2,83.9],[203.7,83.3],[205.2,83.3],[206.7,82.7],[208.2,82.7],[209.7,82.0],[211.2,80.8],[212.7,78.9],[214.2,77.6],[215.7,75.7],[217.2,74.4],[218.7,73.1],[220.1,71.8],[220.9,69.9],[221.6,66.7],[222.4,66.1],[223.1,66.7],[223.9,66.1],[224.6,65.5],[225.4,65.5],[226.1,64.8],[226.9,66.1],[227.6,68.0],[228.4,65.5],[229.1,63.5],[229.9,61.0],[230.6,59.7],[231.3,58.4],[232.1,57.8],[232.8,57.8],[233.6,57.2],[234.3,56.5],[235.1,55.9],[235.8,57.2],[236.6,56.5],[237.3,55.2],[238.1,54.6],[238.8,55.9],[239.6,57.2],[240.3,57.8],[241.0,59.1],[241.8,61.0],[242.5,62.3],[243.3,61.6],[244.0,62.3],[244.8,63.5],[245.5,65.5],[246.3,66.7],[247.0,67.4],[248.5,68.6],[250.0,69.9],[251.5,71.8],[253.0,73.8],[254.5,75.7],[256.0,77.6],[257.5,78.9],[259.0,80.1],[260.4,81.4],[261.9,83.3],[263.4,84.6],[264.9,86.5],[266.4,88.4],[267.9,90.3],[269.4,91.6],[270.9,92.9],[272.4,93.5],[273.9,94.8],[275.4,96.1],[276.1,96.7],[276.9,95.4],[277.6,94.8],[278.4,93.5],[279.1,92.9],[279.9,93.5],[280.6,92.6],[281.3,91.6],[282.1,89.7],[282.8,87.8],[283.3,83.9],[283.6,78.9],[284.0,76.3],[284.6,78.9],[285.2,78.2],[285.8,80.1],[286.6,80.8],[287.3,80.1],[288.1,81.4],[288.8,82.0],[289.6,81.4],[290.3,82.7],[291.8,83.3],[293.3,84.6],[294.8,85.9],[296.3,87.1],[297.8,88.4],[299.3,89.3],[300.7,90.3],[302.2,91.0],[303.7,91.6],[305.2,92.0],[306.7,92.5],[308.2,92.9],[309.7,93.5],[311.2,93.9],[312.7,94.2],[314.2,94.4],[315.7,94.8],[317.2,95.2],[318.7,95.1],[320.1,95.4],[321.6,95.7],[323.1,96.1],[324.6,96.5],[326.1,96.7],[327.6,98.0],[328.4,99.3],[329.1,97.4],[329.9,96.7],[330.6,96.7],[331.3,98.0],[332.1,101.2],[332.5,95.4],[333.0,89.1],[333.6,94.2],[334.3,95.4],[335.1,96.1],[335.8,94.8],[336.6,94.2],[337.3,92.9],[338.1,91.6],[338.8,88.4],[339.3,85.2],[339.9,89.1],[340.4,91.0],[341.0,91.6],[342.5,92.3],[344.0,92.3],[345.5,92.6],[347.0,93.1],[348.5,93.5],[350.0,94.2],[351.5,94.8],[353.0,95.4],[354.5,96.1],[356.0,96.7],[357.5,97.4],[359.0,98.6],[360.4,99.3],[361.9,100.6],[363.4,101.2],[364.9,101.8],[366.4,103.1],[367.9,103.7],[369.4,104.4],[370.9,105.0],[372.4,106.9],[373.1,108.2],[373.9,110.7],[374.6,112.0]];

        var angWithOffset = [[4.0,124.5],[4.9,127.9],[6.0,127.3],[7.5,128.6],[9.0,127.0],[10.4,126.0],[11.9,125.4],[13.4,126.3],[14.9,125.0],[16.0,126.0],[16.9,124.0],[17.9,123.8],[19.4,124.5],[20.9,123.0],[21.9,121.6],[23.1,120.8],[23.9,118.0],[24.6,112.0],[25.1,121.0],[25.8,123.9],[26.9,122.2],[27.9,122.9],[29.1,121.0],[30.3,119.5],[31.3,117.1],[32.1,114.0],[32.8,110.0],[33.6,109.5],[34.3,111.3],[35.1,110.7],[35.8,109.5],[36.6,108.8],[37.3,107.5],[38.1,106.3],[38.8,104.4],[39.6,102.5],[40.4,100.5],[41.0,97.4],[41.8,96.1],[42.5,95.4],[43.3,96.7],[44.0,95.4],[44.8,95.4],[45.5,94.8],[46.3,96.1],[47.0,97.4],[47.8,95.4],[48.5,93.5],[49.3,92.9],[50.0,92.3],[50.7,91.6],[51.5,91.0],[52.2,92.3],[53.0,92.9],[53.7,91.0],[54.5,90.3],[55.2,89.1],[56.0,88.4],[57.5,89.1],[59.0,88.4],[60.4,87.8],[61.9,87.1],[63.4,86.5],[64.2,85.9],[64.9,87.1],[65.7,87.8],[66.4,88.4],[67.2,87.1],[67.9,87.8],[69.4,87.1],[70.9,88.4],[72.4,87.8],[73.9,88.4],[75.4,87.8],[76.9,87.1],[78.4,87.8],[79.9,88.4],[81.3,89.1],[82.8,89.1],[84.3,88.4],[85.8,87.8],[87.3,88.4],[88.1,89.7],[88.8,89.1],[89.6,87.8],[90.3,87.1],[91.8,87.1],[93.3,87.8],[94.8,89.1],[95.5,88.4],[96.3,87.8],[97.8,87.1],[99.3,85.9],[100.7,85.2],[102.2,85.9],[103.7,85.9],[105.2,85.2],[106.7,84.6],[108.2,83.3],[109.7,81.4],[110.4,80.1],[111.2,77.6],[111.9,75.0],[112.7,73.8],[113.4,73.1],[114.2,74.4],[114.9,75.7],[115.7,76.3],[116.4,75.7],[117.2,77.6],[117.9,76.9],[118.7,75.0],[119.4,74.4],[120.1,72.5],[120.9,71.8],[121.6,70.5],[122.4,69.9],[123.1,68.6],[123.9,67.4],[124.6,67.4],[126.1,67.6],[127.6,68.0],[129.1,68.4],[130.6,68.0],[131.3,69.3],[132.1,71.8],[132.8,73.8],[133.6,74.4],[134.3,75.7],[135.1,75.0],[135.8,75.7],[136.6,76.3],[137.3,75.7],[138.1,76.3],[139.6,75.7],[141.0,75.0],[142.5,75.0],[144.0,74.4],[145.5,74.4],[147.0,74.4],[148.5,73.8],[150.0,73.8],[151.5,73.1],[153.0,72.5],[154.5,71.8],[156.0,72.5],[157.5,73.1],[159.0,74.4],[160.4,75.0],[161.9,76.3],[163.4,77.6],[164.9,78.9],[166.4,80.1],[167.2,81.4],[167.9,82.7],[168.7,83.9],[169.4,84.6],[170.1,85.2],[170.9,86.5],[171.6,87.1],[172.4,87.8],[173.1,87.8],[173.9,86.5],[175.4,86.5],[176.9,86.5],[178.4,86.1],[179.9,85.5],[181.0,84.6],[181.6,83.0],[182.2,84.0],[183.6,84.6],[184.6,84.0],[185.8,83.3],[187.3,83.3],[188.8,83.6],[190.3,83.9],[191.8,83.3],[193.3,83.6],[194.8,83.9],[196.3,83.6],[197.8,84.2],[199.3,83.9],[200.7,84.2],[202.2,83.3],[203.7,82.7],[205.2,82.7],[206.7,82.0],[208.2,81.4],[209.7,80.8],[211.2,79.5],[212.7,77.6],[214.2,76.3],[215.7,74.4],[217.2,73.1],[218.7,71.8],[220.1,70.5],[220.9,68.6],[221.6,65.5],[222.4,64.8],[223.1,65.5],[223.9,64.8],[224.6,64.2],[225.4,64.2],[226.1,63.5],[226.9,64.8],[227.6,73.0],[228.4,64.2],[229.1,62.3],[229.9,59.7],[230.6,58.4],[231.3,57.2],[232.1,56.5],[232.8,55.9],[233.6,55.2],[234.3,54.6],[235.1,53.9],[235.8,55.2],[236.6,54.6],[237.3,53.3],[238.1,53.9],[238.8,54.6],[239.6,55.9],[240.3,56.5],[241.0,57.8],[241.8,59.7],[242.5,60.4],[243.3,59.7],[244.0,60.4],[244.8,61.6],[245.5,63.5],[246.3,65.5],[247.0,66.1],[248.5,67.4],[250.0,69.3],[251.5,71.2],[253.0,73.1],[254.5,75.0],[256.0,76.9],[257.5,78.2],[259.0,79.5],[260.4,80.8],[261.9,82.7],[263.4,84.2],[264.9,86.1],[266.4,88.0],[267.9,89.7],[269.4,91.0],[270.9,92.3],[272.4,92.9],[273.9,94.2],[275.4,95.4],[276.1,96.1],[276.9,95.4],[277.6,94.2],[278.4,93.5],[279.1,92.3],[279.9,92.9],[280.6,91.6],[281.3,90.3],[282.1,88.4],[282.8,86.5],[283.3,82.0],[283.6,76.3],[284.0,72.5],[284.6,76.9],[285.2,77.6],[285.8,79.5],[286.6,80.1],[287.3,79.5],[288.1,80.8],[288.8,79.5],[289.6,76.3],[290.3,71.2],[290.7,74.4],[291.3,80.1],[291.8,82.7],[293.3,84.0],[294.8,85.2],[296.3,86.5],[297.8,87.8],[299.3,88.6],[300.7,89.7],[302.2,90.3],[303.7,91.0],[305.2,91.6],[306.7,92.0],[308.2,92.5],[309.7,92.9],[311.2,93.5],[312.7,93.9],[314.2,94.2],[315.7,94.4],[317.2,94.8],[318.7,94.6],[320.1,95.0],[321.6,95.2],[323.1,95.7],[324.6,96.1],[326.1,96.5],[327.6,97.4],[328.4,98.6],[329.1,96.7],[329.9,96.1],[330.6,96.1],[331.3,97.4],[332.1,99.3],[332.5,92.0],[333.0,84.0],[333.6,92.9],[334.3,94.8],[335.1,95.4],[335.8,94.2],[336.6,93.5],[337.3,92.3],[338.1,90.3],[338.8,86.5],[339.3,82.7],[339.9,87.1],[340.4,89.7],[341.0,91.0],[342.5,91.6],[344.0,91.6],[345.5,92.0],[347.0,92.5],[348.5,92.9],[350.0,93.5],[351.5,94.2],[353.0,94.8],[354.5,95.4],[356.0,96.1],[357.5,96.7],[359.0,98.0],[360.4,98.6],[361.9,100.0],[363.4,100.6],[364.9,101.2],[366.4,102.5],[367.9,103.1],[369.4,103.7],[370.9,104.4],[372.4,106.3],[373.1,108.0],[373.9,112.5],[374.3,118.0],[374.8,124.8]];

        var steerAngle = [[4.5,82.4],[11.2,79.1],[18.7,75.0],[26.1,70.8],[32.1,67.4],[38.1,62.5],[44,57.8],[50,53.3],[56,48.9],[60.4,46.3],[64.2,45.2],[67.9,45.9],[73.9,50.1],[79.8,54.9],[85.8,57.8],[91.8,59.3],[97.8,58.9],[103.7,58.2],[112.7,56.5],[120.1,55.0],[126.1,54.6],[132.1,55.6],[139.5,58.2],[147,60.2],[154.5,61.8],[160.4,62.5],[166.4,61.5],[172.4,58.4],[178.4,53.3],[184.3,49.2],[188.8,48.0],[193.3,49.5],[197.8,52],[202.2,55.2],[206.7,59.1],[211.2,63.3],[215.7,68.0],[220.1,71.8],[224.6,74.0],[229.1,75.0],[233.6,74.8],[238,73.5],[242.5,72.7],[248.5,72.2],[254.5,72.1],[260.4,71.5],[266.4,69.7],[272.4,67.4],[278.4,65.5],[284.3,63.9],[290.3,62.6],[296.3,61.4],[302.2,59.7],[308.2,57.8],[314.2,55.9],[320.1,54.6],[326.1,54.2],[332.1,54.9],[338.1,56.1],[344,57.2],[350,57.8],[356,58.3],[361.9,58.3],[367.9,57.8],[374.6,56.8]];

        var titles = [
            'Lower Skin Trailing Edge Maj. Princ. Strain  vs. Span (-1G, 100.0% Load)',
            'Lower Skin Trailing Edge Min. Princ. Strain  vs. Span (-1G, 100.0% Load)',
            'Lower Skin Trailing Edge Minor Principal Strain Angle  vs. Span (-1G, 100.0% Load)'
        ];

        // MATLAB-ish look
        var blue = '#0000ff';
        var axisColor = '#262626';
        var dashDot = [8, 3, 2, 3];
        var dotted = [1, 2.5];
        var squareIcon = 'path://M0,0L10,0L10,10L0,10Z';

        function gagePoints(values) {
            return gageSpan.map(function (s, i) { return [s, values[i]]; });
        }

        function makeX(idx) {
            return {
                gridIndex: idx, type: 'value', min: 0, max: 400, interval: 50,
                name: 'Span (in)', nameLocation: 'middle', nameGap: 31,
                nameTextStyle: { fontFamily: 'Liberation Serif', fontSize: 22, color: axisColor },
                axisLine: { onZero: false, lineStyle: { color: axisColor, width: 1 } },
                axisTick: { inside: true, length: 9, lineStyle: { color: axisColor } },
                axisLabel: { fontFamily: 'Liberation Sans', fontSize: 19, color: axisColor, margin: 9 },
                splitLine: { show: false }
            };
        }

        function makeY(idx, min, max, interval, name, gap) {
            return {
                gridIndex: idx, type: 'value', min: min, max: max, interval: interval,
                name: name, nameLocation: 'middle', nameGap: gap,
                nameTextStyle: { fontFamily: 'Liberation Serif', fontSize: 22, color: axisColor },
                axisLine: { onZero: false, lineStyle: { color: axisColor, width: 1 } },
                axisTick: { inside: true, length: 9, lineStyle: { color: axisColor } },
                axisLabel: { fontFamily: 'Liberation Sans', fontSize: 19, color: axisColor, margin: 7 },
                splitLine: { show: false }
            };
        }

        function lineSeries(name, idx, data, type, smooth) {
            return {
                name: name, type: 'line', xAxisIndex: idx, yAxisIndex: idx,
                data: data, symbol: 'none', smooth: smooth || false,
                lineStyle: { color: blue, width: 1, type: type },
                itemStyle: { color: blue },
                emphasis: { disabled: true }
            };
        }

        function gageSeries(idx, values) {
            return {
                name: 'Strain Gage Data', type: 'scatter', xAxisIndex: idx, yAxisIndex: idx,
                data: gagePoints(values), symbol: 'rect', symbolSize: 8,
                itemStyle: { color: blue, opacity: 1 },
                emphasis: { disabled: true }
            };
        }

        // line entries hide the marker dot, gage entry gets a small square
        function legendItems(lineNames) {
            var items = lineNames.map(function (n) {
                return { name: n, itemStyle: { opacity: 0 } };
            });
            items.push({ name: 'Strain Gage Data', icon: squareIcon });
            return items;
        }

        function makeLegend(idx, lineNames, left, top, gap) {
            return {
                id: 'lg' + idx, data: legendItems(lineNames), orient: 'vertical', left: left, top: top,
                padding: [6, 5, 5, 4.5], itemGap: gap, itemWidth: 45, itemHeight: 8,
                symbolKeepAspect: true,
                borderColor: axisColor, borderWidth: 1, backgroundColor: '#fff',
                textStyle: { fontFamily: 'Liberation Sans', fontSize: 16.5, color: '#000', lineHeight: 16 },
                selectedMode: false
            };
        }

        var chart = echarts.init(document.getElementById('chart'));

        var titleStyle = { fontFamily: 'Liberation Sans', fontSize: 20, fontWeight: 'bold', color: '#000' };

        var option = {
            animation: false,
            backgroundColor: '#fff',
            title: [
                { text: titles[0], left: 529, top: 6, textAlign: 'center', padding: 0, textStyle: titleStyle },
                { text: titles[1], left: 525, top: 584, textAlign: 'center', padding: 0, textStyle: titleStyle },
                { text: titles[2], left: 525, top: 1154, textAlign: 'center', padding: 0, textStyle: titleStyle }
            ],
            grid: [
                { left: 82, top: 30.5, width: 894, height: 470 },
                { left: 78.5, top: 606.7, width: 893.5, height: 470 },
                { left: 78.5, top: 1182.5, width: 893.5, height: 470 }
            ],
            xAxis: [makeX(0), makeX(1), makeX(2)],
            yAxis: [
                makeY(0, -100, 600, 100, 'Microstrain', 52),
                makeY(1, -900, -100, 100, 'Microstrain', 50),
                makeY(2, 0, 180, 20, 'Minor Principal Strain Angle (deg) from X-axis', 47)
            ],
            legend: [
                makeLegend(0, ["'No Skin Offset' FEM", "'With Skin Offset' FEM"], 417, 43, 6.5),
                makeLegend(1, ["'No Skin Offset' FEM", "'With Skin Offset' FEM"], 735, 992.3, 6.5),
                makeLegend(2, ["Minor Prin. Angle 'No Skin Offset' FEM", "Minor Prin. Angle 'With Skin Offset' FEM", 'Steering Angle'], 603.3, 1196.7, 5.9)
            ],
            series: [
                lineSeries("'No Skin Offset' FEM", 0, majNoOffset, dashDot),
                lineSeries("'With Skin Offset' FEM", 0, majWithOffset, dotted),
                gageSeries(0, majGage),

                lineSeries("'No Skin Offset' FEM", 1, minNoOffset, dashDot),
                lineSeries("'With Skin Offset' FEM", 1, minWithOffset, dotted),
                gageSeries(1, minGage),

                lineSeries("Minor Prin. Angle 'No Skin Offset' FEM", 2, angNoOffset, dashDot),
                lineSeries("Minor Prin. Angle 'With Skin Offset' FEM", 2, angWithOffset, dotted),
                lineSeries('Steering Angle', 2, steerAngle, 'solid', 0.4),
                gageSeries(2, angGage)
            ]
        };

        chart.setOption(option);
    </script>
</body>
</html>
